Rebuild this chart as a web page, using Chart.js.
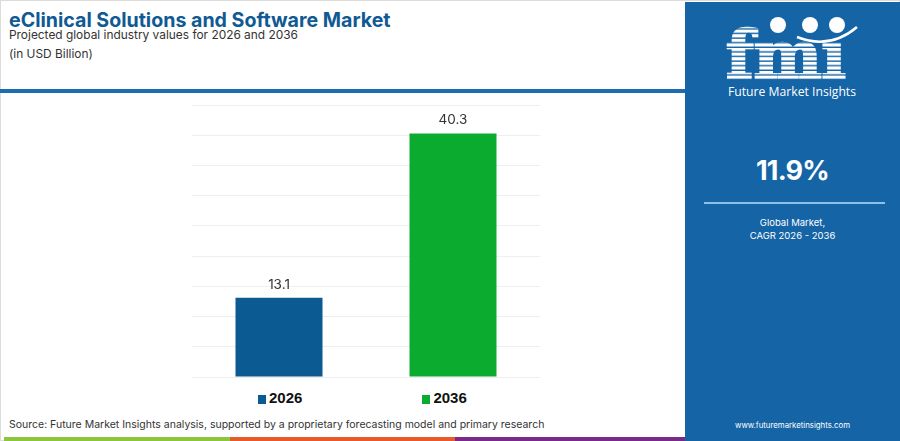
<!DOCTYPE html>
<html>
<head>
<meta charset="utf-8">
<script src="https://cdn.jsdelivr.net/npm/chart.js@4.4.1/dist/chart.umd.min.js"></script>
<style>
  html, body { margin: 0; padding: 0; }
  body { width: 900px; height: 441px; position: relative; overflow: hidden; background: #fff; font-family: "Inter", "Open Sans", sans-serif; }
  .frame { position: absolute; left: 0; top: 0; width: 898px; height: 439px; border: 1px solid #dcdcdc; }
  .title { position: absolute; left: 9px; top: 8px; font-size: 19.6px; font-weight: 700; color: #105a94; white-space: nowrap; }
  .sub { position: absolute; left: 9px; top: 25px; font-size: 11.9px; color: #333; white-space: nowrap; line-height: 19px; }
  .rule { position: absolute; left: 0; top: 89px; width: 685px; height: 4px; background: #1c6db1; }
  .chartbox { position: absolute; left: 186px; top: 100px; width: 360px; height: 282px; }
  .legend { position: absolute; left: 258px; top: 389px; display: flex; gap: 120px; font-family: "Liberation Sans", Arial, sans-serif; font-weight: 700; font-size: 15px; color: #111; }
  .legend span.box { display: inline-block; width: 8px; height: 9px; margin-right: 3px; vertical-align: -1px; }
  .source { position: absolute; left: 9px; top: 418px; font-size: 10.5px; color: #333; white-space: nowrap; }
  .stripe { position: absolute; top: 437px; height: 4px; }
  .panel { position: absolute; left: 685px; top: 2px; width: 215px; height: 439px; background: #1464a6; color: #fff; text-align: center; }
  .cagr { position: absolute; left: 0; width: 215px; top: 152px; font-size: 27px; font-weight: 700; letter-spacing: -0.8px; }
  .pline { position: absolute; left: 19px; top: 200px; width: 181px; height: 2px; background: #8fc0ea; }
  .glob { position: absolute; left: 0; width: 215px; top: 214px; font-size: 9.5px; line-height: 13px; }
  .url { position: absolute; left: 0; width: 215px; top: 418px; font-size: 7.8px; }
</style>
</head>
<body>
<div class="frame"></div>
<div class="title">eClinical Solutions and Software Market</div>
<div class="sub">Projected global industry values for 2026 and 2036<br>(in USD Billion)</div>
<div class="rule"></div>
<div class="chartbox"><canvas id="barChart" width="360" height="282"></canvas></div>
<div class="legend" id="legend"></div>
<div class="source">Source: Future Market Insights analysis, supported by a proprietary forecasting model and primary research</div>
<div class="stripe" style="left:4px;width:226px;background:#8cc63f"></div>
<div class="stripe" style="left:230px;width:225px;background:#e85a2b"></div>
<div class="stripe" style="left:455px;width:230px;background:#7b2a8c"></div>
<div class="panel">
  <svg width="215" height="100" style="position:absolute;left:0;top:0">
    <defs>
      <pattern id="stripes" width="10" height="4.6" patternUnits="userSpaceOnUse">
        <rect x="0" y="3.2" width="10" height="1.4" fill="#1464a6"></rect>
      </pattern>
    </defs>
    <text x="41" y="76" font-family="DejaVu Serif" font-weight="bold" font-size="66" fill="#fff" stroke="#fff" stroke-width="2.5" textLength="120" lengthAdjust="spacingAndGlyphs">fmı</text>
    <rect x="35" y="18" width="135" height="60" fill="url(#stripes)"></rect>
    <circle cx="93" cy="23" r="8" fill="#fff"></circle>
    <circle cx="125" cy="23" r="8" fill="#fff"></circle>
    <circle cx="152" cy="23" r="8" fill="#fff"></circle>
    <path d="M 112 35 Q 145 48 172 25" stroke="#fff" stroke-width="2.5" fill="none"></path>
    <text x="107" y="94" text-anchor="middle" font-family="Open Sans" font-size="13" fill="#fff" textLength="128" lengthAdjust="spacingAndGlyphs">Future Market Insights</text>
  </svg>
  <div class="cagr">11.9%</div>
  <div class="pline"></div>
  <div class="glob">Global Market,<br>CAGR 2026 - 2036</div>
  <div class="url">www.futuremarketinsights.com</div>
</div>
<script>
const years = ["2026", "2036"];
const marketValues = [13.1, 40.3];
const barColors = ["#0b5a91", "#0aab2f"];
const yMax = 45;
const yStep = 5;

// one dataset per year so each gets its own legend entry
const datasets = years.map((yr, i) => ({
  label: yr,
  data: marketValues.map((v, j) => (j === i ? v : null)),
  backgroundColor: barColors[i],
  borderWidth: 0
}));

const valueLabels = {
  id: "valueLabels",
  afterDatasetsDraw(chart) {
    const ctx = chart.ctx;
    ctx.save();
    ctx.font = "13.5px Inter, 'Open Sans', sans-serif";
    ctx.fillStyle = "#333";
    ctx.textAlign = "center";
    ctx.textBaseline = "middle";
    chart.data.datasets.forEach((ds, i) => {
      chart.getDatasetMeta(i).data.forEach((bar, j) => {
        if (ds.data[j] == null) return;
        ctx.fillText(ds.data[j].toFixed(1), bar.x, bar.y - 13);
      });
    });
    ctx.restore();
  }
};

const ctx = document.getElementById("barChart").getContext("2d");
new Chart(ctx, {
  type: "bar",
  data: { labels: years, datasets: datasets },
  options: {
    responsive: false,
    animation: false,
    grouped: false,
    barPercentage: 0.5,
    categoryPercentage: 1,
    layout: { padding: { left: 6, right: 6, top: 5, bottom: 5 } },
    plugins: { legend: { display: false }, tooltip: { enabled: false } },
    scales: {
      x: { display: false },
      y: {
        min: 0,
        max: yMax,
        ticks: { display: false, stepSize: yStep },
        grid: { color: "#eeeeee", drawTicks: false },
        border: { display: false }
      }
    }
  },
  plugins: [valueLabels]
});

// legend built from the same arrays
const legend = document.getElementById("legend");
years.forEach((yr, i) => {
  const item = document.createElement("div");
  item.innerHTML = '<span class="box" style="background:' + barColors[i] + '"></span>' + yr;
  legend.appendChild(item);
});
</script>
</body>
</html>
